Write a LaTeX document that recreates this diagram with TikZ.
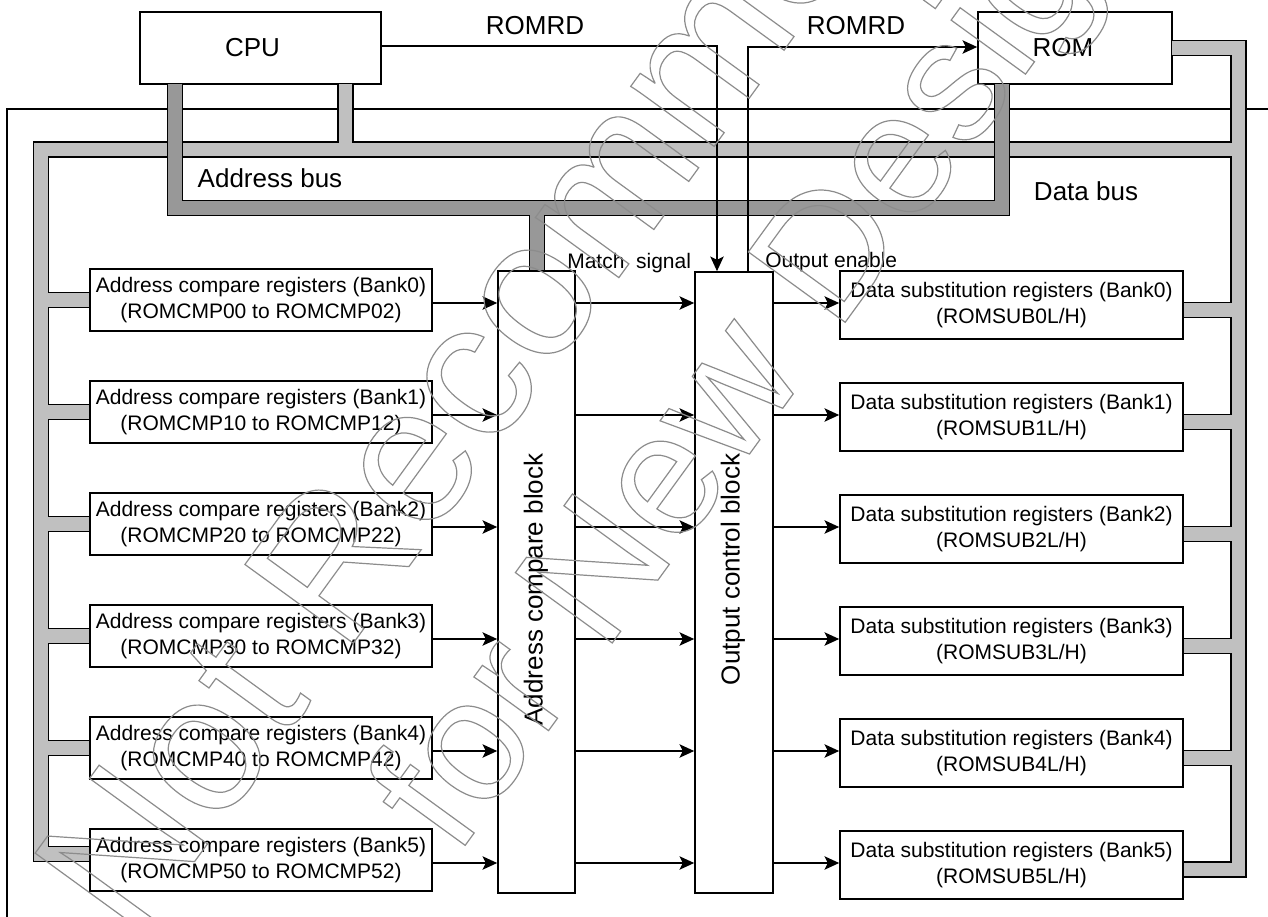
\documentclass[tikz,border=0pt]{standalone}
\usepackage{fontspec}
\setmainfont{Liberation Sans}
\usetikzlibrary{arrows.meta,calc}
\definecolor{dbcol}{RGB}{192,192,192}
\definecolor{abcol}{RGB}{152,152,152}
\begin{document}
\begin{tikzpicture}[x=0.75pt,y=-0.75pt,
  box/.style={draw,line width=1.2pt,fill=white,inner sep=0pt,align=center},
  regtext/.style={font=\fontsize{15.75}{20}\selectfont},
  bigtext/.style={font=\fontsize{19.5}{23}\selectfont},
  sig/.style={line width=1.4pt},
  arr/.style={-{Stealth[length=11pt,width=10pt,inset=2.5pt]}},
  busout/.style={line width=12.4pt,draw=black,line cap=butt,line join=miter},
  dbus/.style={line width=9.8pt,draw=dbcol,line cap=butt,line join=miter},
  abus/.style={line width=9.8pt,draw=abcol,line cap=butt,line join=miter},
  wm/.style={rotate=54,anchor=base west,inner sep=0pt}
]
\useasboundingbox (0,0) rectangle (1268,917);

% frame
\draw[line width=1pt] (7,917) -- (7,109) -- (1268,109);

% nodes
\node[box,bigtext,minimum width=180.75pt,minimum height=54pt] (cpu) at (260.5,48) {CPU\hspace{12pt}};
\node[box,bigtext,minimum width=145.5pt,minimum height=54pt] (rom) at (1075,48) {ROM\hspace{18pt}};
\path (175,208) coordinate (abL) (1002,208) coordinate (abR) (537,208) coordinate (abT);
\path (41,149.5) coordinate (lb) (1238.5,149.5) coordinate (rb);

\foreach \k in {0,...,5}{
  \path (261,{300+112*\k}) coordinate (ap\k);
  \path (1011.5,{305+112*\k}) coordinate (dp\k);
}
\path (90,854) coordinate (a5s) (1183,869.5) coordinate (d5s) (1172,48) coordinate (roms);
\path (345.5,84) coordinate (cpud) (175,84) coordinate (cpua) (1002,84) coordinate (roma);

% data bus (outline pass, then fill pass)
\draw[busout] (cpud) -- (cpud |- lb);
\draw[busout] (a5s) -- (a5s -| lb) -- (lb) -- (rb);
\draw[busout] (roms) -- (roms -| rb) -- (d5s -| rb) -- (d5s);
\foreach \k in {0,...,4}{
  \draw[busout] (90,{300+112*\k}) -- (41,{300+112*\k});
  \draw[busout] (1183,{310+112*\k}) -- (1238.5,{310+112*\k});
}
\draw[dbus] (cpud) -- (cpud |- lb);
\draw[dbus] (a5s) -- (a5s -| lb) -- (lb) -- (rb);
\draw[dbus] (roms) -- (roms -| rb) -- (d5s -| rb) -- (d5s);
\foreach \k in {0,...,4}{
  \draw[dbus] (90,{300+112*\k}) -- (41,{300+112*\k});
  \draw[dbus] (1183,{310+112*\k}) -- (1238.5,{310+112*\k});
}

% address bus
\draw[busout] (cpua) -- (abL) -- (abR) -- (roma);
\draw[busout] (abT) -- (537,271);
\draw[abus] (cpua) -- (abL) -- (abR) -- (roma);
\draw[abus] (abT) -- (537,271);

% blocks
\node[box,minimum width=57.75pt,minimum height=466.5pt] (acb) at (536.5,582) {};
\node[box,minimum width=58.5pt,minimum height=465.75pt] (ocb) at (734,582.5) {};
\node[bigtext,rotate=90,inner sep=0pt] (acbl) at (536,589.5) {Address compare block};
\node[bigtext,rotate=90,inner sep=0pt] (ocbl) at (733,569.5) {Output control block};

% registers
\foreach \k in {0,...,5}{
  \pgfmathtruncatemacro{\a}{\k*10}
  \pgfmathtruncatemacro{\b}{\k*10+2}
  \node[box,regtext,minimum width=256.5pt,minimum height=46.5pt] (a\k) at (ap\k)
     {Address compare registers (Bank\k)\\(ROMCMP\ifnum\k=0 0\fi\a\ to ROMCMP\ifnum\k=0 0\fi\b)};
  \node[box,regtext,minimum width=257.25pt,minimum height=51pt] (d\k) at (dp\k)
     {Data substitution registers (Bank\k)\\(ROMSUB\k L/H)};
  \draw[sig,arr] ($(a\k.east)+(0,3)$) -- ($(acb.west |- a\k.east)+(0,3)$);
  \draw[sig,arr] ($(acb.east |- a\k.east)+(0,3)$) -- ($(ocb.west |- a\k.east)+(0,3)$);
  \draw[sig,arr] ($(ocb.east |- d\k.west)+(0,-2)$) -- ($(d\k.west)+(0,-2)$);
}

% ROMRD signals
\draw[sig,arr] ($(cpu.east)+(0,-2)$) -| ($(ocb.north)+(-17,0)$);
\draw[sig,arr] ($(ocb.north)+(14,0)$) |- ($(rom.west)+(0,-1)$);

% labels
\node[bigtext,anchor=base,inner sep=0pt] (romrd1) at (535,35) {ROMRD};
\node[bigtext,anchor=base,inner sep=0pt] (romrd2) at (856,35) {ROMRD};
\node[bigtext,anchor=base,inner sep=0pt] (abl) at (270,187) {Address bus};
\node[bigtext,anchor=base,inner sep=0pt] (dbl) at (1086,200) {Data bus};
\node[regtext,anchor=base west,inner sep=0pt] (msl) at (567,268) {Match\ \ signal};
\node[regtext,anchor=base west,inner sep=0pt] (oel) at (765,267) {Output enable};

% watermark (outlined text)
\node[wm,font=\fontsize{146}{146}\selectfont] (wm1) at (134,945) {\special{pdf:literal direct 1 Tr 0.9 w}\color[gray]{0.55}Not Recommended\special{pdf:literal direct 0 Tr}};
\node[wm,font=\fontsize{130.5}{130.5}\selectfont] (wm2) at (456,858) {\special{pdf:literal direct 1 Tr 0.9 w}\color[gray]{0.55}for New Design\special{pdf:literal direct 0 Tr}};
\end{tikzpicture}
\end{document}
